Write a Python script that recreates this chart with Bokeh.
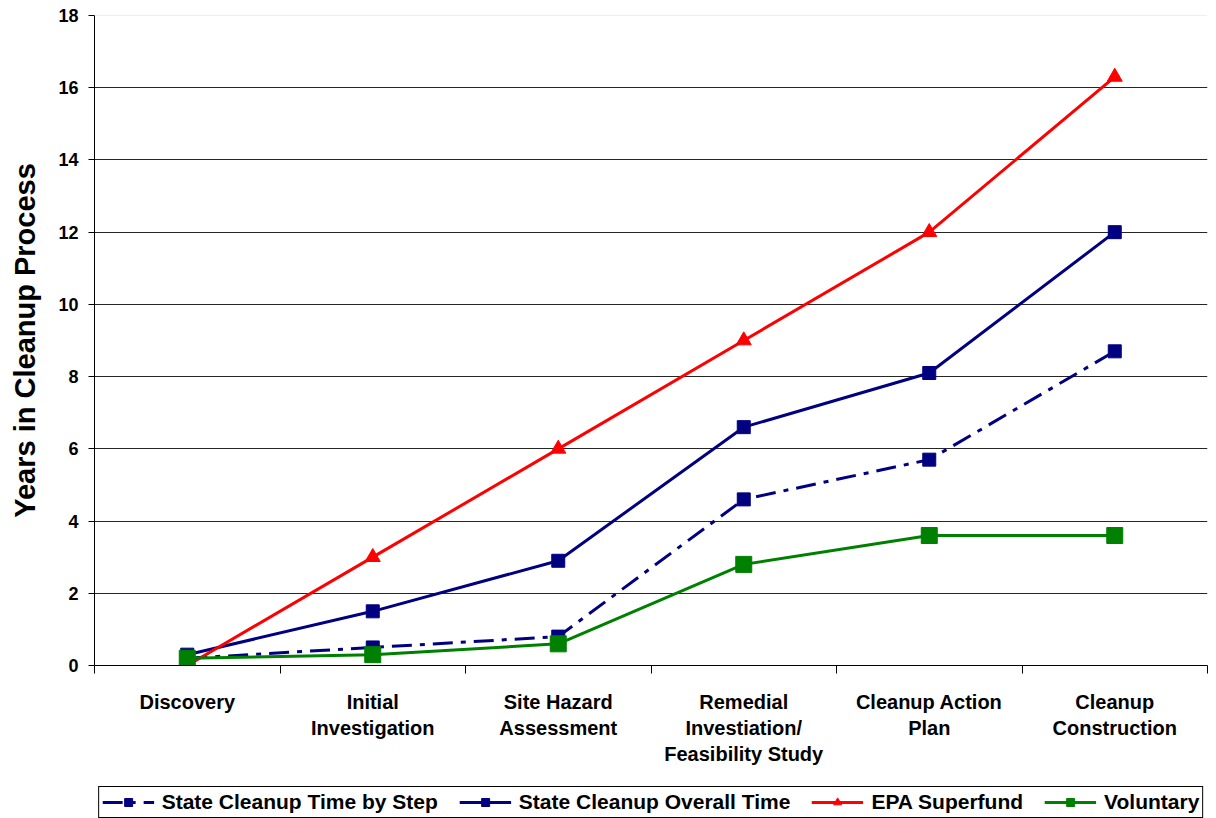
from bokeh.plotting import figure
from bokeh.models import FixedTicker, Legend, LegendItem, Span
from bokeh.layouts import column
from bokeh.embed import file_html
from bokeh.resources import INLINE

categories = ["Discovery", "Initial\nInvestigation", "Site Hazard\nAssessment",
              "Remedial\nInvestiation/\nFeasibility Study", "Cleanup Action\nPlan",
              "Cleanup\nConstruction"]
series_names = ["State Cleanup Time by Step", "State Cleanup Overall Time",
                "EPA Superfund", "Voluntary"]
step_time = [0.2, 0.5, 0.8, 4.6, 5.7, 8.7]
overall_time = [0.3, 1.5, 2.9, 6.6, 8.1, 12.0]
epa_superfund = [0.0, 3.0, 6.0, 9.0, 12.0, 16.3]
voluntary = [0.2, 0.3, 0.6, 2.8, 3.6, 3.6]
y_ticks = [0, 2, 4, 6, 8, 10, 12, 14, 16, 18]

xs = [i + 0.5 for i in range(len(categories))]
FONT = "Liberation Sans"
NAVY = "#000080"
RED = "#ff0000"
GREEN = "#008000"

styles = [
    dict(color=NAVY, dash="20 8 5 8", marker="square", size=13),
    dict(color=NAVY, dash="solid", marker="square", size=13),
    dict(color=RED, dash="solid", marker="triangle", size=15),
    dict(color=GREEN, dash="solid", marker="square", size=16),
]
series = [step_time, overall_time, epa_superfund, voluntary]

p = figure(width=1208, height=785, x_range=(0, 6), y_range=(0, 18),
           output_backend="svg", toolbar_location=None,
           min_border_left=94, min_border_right=1, min_border_top=15, min_border_bottom=120)
p.outline_line_color = None
p.background_fill_color = "white"

p.xaxis.ticker = FixedTicker(ticks=xs, minor_ticks=list(range(7)))
p.xaxis.major_label_overrides = {x: c for x, c in zip(xs, categories)}
p.xaxis.major_tick_out = 0
p.xaxis.major_tick_in = 0
p.xaxis.minor_tick_out = 8
p.xaxis.minor_tick_in = 0
p.xaxis.minor_tick_line_color = "black"
p.xaxis.axis_line_color = "black"
p.xaxis.major_label_text_font = FONT
p.xaxis.major_label_text_font_style = "bold"
p.xaxis.major_label_text_font_size = "20px"
p.xaxis.major_label_text_color = "black"
p.xaxis.major_label_standoff = 17

p.yaxis.ticker = FixedTicker(ticks=y_ticks)
p.yaxis.major_tick_out = 6
p.yaxis.major_tick_in = 0
p.yaxis.minor_tick_line_color = None
p.yaxis.axis_line_color = "black"
p.yaxis.major_tick_line_color = "black"
p.yaxis.major_label_text_font = FONT
p.yaxis.major_label_text_font_style = "bold"
p.yaxis.major_label_text_font_size = "18px"
p.yaxis.major_label_text_color = "black"
p.yaxis.major_label_standoff = 10
p.yaxis.axis_label = "Years in Cleanup Process"
p.yaxis.axis_label_text_font = FONT
p.yaxis.axis_label_text_font_style = "bold"
p.yaxis.axis_label_text_font_size = "29px"
p.yaxis.axis_label_text_color = "black"
p.yaxis.axis_label_standoff = 14

p.xgrid.grid_line_color = None
p.ygrid.ticker = FixedTicker(ticks=[2, 4, 6, 8, 10, 12, 14, 16])
p.ygrid.grid_line_color = "black"
p.ygrid.grid_line_alpha = 0.85
p.add_layout(Span(location=18, dimension="width", line_color="#dddddd", line_width=1))

for vals, st in zip(series, styles):
    p.line(xs, vals, line_color=st["color"], line_width=3, line_dash=st["dash"])
    p.scatter(xs, vals, marker=st["marker"], size=st["size"],
              fill_color=st["color"], line_color=st["color"])

# legend strip below the chart (its renderers sit outside the visible range)
lg = figure(width=1208, height=33, x_range=(0, 1), y_range=(0, 1),
            output_backend="svg", toolbar_location=None,
            min_border_left=0, min_border_right=0, min_border_top=0, min_border_bottom=0)
lg.axis.visible = False
lg.grid.visible = False
lg.outline_line_color = None
items = []
for name, st in zip(series_names, styles):
    r1 = lg.line([-5, -4], [-5, -5], line_color=st["color"], line_width=3, line_dash=st["dash"])
    r2 = lg.scatter([-5], [-5], marker=st["marker"], size=st["size"] - 2,
                    fill_color=st["color"], line_color=st["color"])
    items.append(LegendItem(label=name, renderers=[r1, r2]))

legend = Legend(items=items, orientation="horizontal", location="center")
legend.label_text_font = FONT
legend.label_text_font_style = "bold"
legend.label_text_font_size = "21px"
legend.label_text_color = "black"
legend.glyph_width = 52
legend.glyph_height = 20
legend.label_standoff = 8
legend.spacing = 21
legend.padding = 3
legend.margin = 0
legend.border_line_color = "black"
legend.border_line_alpha = 1.0
legend.border_line_width = 1
lg.add_layout(legend, "center")

layout = column(p, lg, spacing=0)
open("out.html", "w").write(file_html(layout, INLINE))
